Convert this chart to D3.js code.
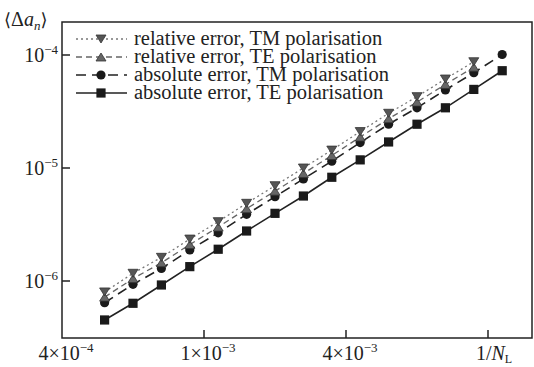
<!DOCTYPE html>
<html>
<head>
<meta charset="utf-8">
<script src="https://cdn.jsdelivr.net/npm/d3@7"></script>
<style>
  body { margin: 0; background: #fff; }
  svg { display: block; }
  text { font-family: "Liberation Serif", "DejaVu Serif", serif; fill: #222; }
</style>
</head>
<body>
<svg></svg>
<script>
// chart values
// x positions are in axis units: tick 0 = 4e-4, 1 = 1e-3, 2 = 4e-3, 3 = 1/N_L mark
const xTicks = [0, 1, 2, 3];
const xTickLabels = [["4×10", "−4"], ["1×10", "−3"], ["4×10", "−3"], null];
const yTicks = [1e-6, 1e-5, 1e-4];
const yTickLabels = [["10", "−6"], ["10", "−5"], ["10", "−4"]];

const xAbs = [0.30, 0.50, 0.70, 0.90, 1.10, 1.30, 1.50, 1.70, 1.90, 2.10, 2.30, 2.50, 2.70, 2.90, 3.10];
const xRel = [0.30, 0.50, 0.70, 0.90, 1.10, 1.30, 1.50, 1.70, 1.90, 2.10, 2.30, 2.50, 2.70, 2.90];

const relTM = [8.0e-7, 1.17e-6, 1.62e-6, 2.35e-6, 3.35e-6, 4.87e-6, 6.97e-6, 1.0e-5, 1.44e-5, 2.10e-5, 3.05e-5, 4.28e-5, 6.13e-5, 8.72e-5];
const relTE = [7.2e-7, 1.05e-6, 1.45e-6, 2.10e-6, 3.0e-6, 4.36e-6, 6.24e-6, 8.95e-6, 1.29e-5, 1.88e-5, 2.73e-5, 3.83e-5, 5.49e-5, 7.8e-5];
const absTM = [6.42e-7, 9.35e-7, 1.29e-6, 1.88e-6, 2.67e-6, 3.89e-6, 5.57e-6, 8.0e-6, 1.15e-5, 1.68e-5, 2.44e-5, 3.41e-5, 4.90e-5, 6.97e-5, 1.01e-4];
const absTE = [4.52e-7, 6.35e-7, 9.22e-7, 1.34e-6, 1.91e-6, 2.77e-6, 3.97e-6, 5.65e-6, 8.28e-6, 1.18e-5, 1.70e-5, 2.44e-5, 3.41e-5, 4.96e-5, 7.26e-5];

const seriesNames = ["relative error, TM polarisation", "relative error, TE polarisation",
                     "absolute error, TM polarisation", "absolute error, TE polarisation"];

async function init() {
var width = 534;
var height = 367;
var left = 62, right = 532, top = 22, bottom = 338;

const svg = d3.select("svg").attr("width", width).attr("height", height);

const xs = d3.scaleLinear().domain([0, 3]).range([62, 488]);
const ys = d3.scaleLog().domain([1e-6, 1e-4]).range([281, 55]);

// ================= series =================
const series = [
  { name: seriesNames[0], x: xRel, y: relTM, dash: "2,3", stroke: "#777", sw: 1.3, marker: "down", fill: "#555" },
  { name: seriesNames[1], x: xRel, y: relTE, dash: "6,4", stroke: "#666", sw: 1.3, marker: "up", fill: "#666" },
  { name: seriesNames[2], x: xAbs, y: absTM, dash: "10,6", stroke: "#222", sw: 1.6, marker: "circle", fill: "#1a1a1a" },
  { name: seriesNames[3], x: xAbs, y: absTE, dash: null, stroke: "#222", sw: 1.6, marker: "square", fill: "#1a1a1a" }
];

function drawMarker(g, type, cx, cy, fill) {
  if (type === "circle") {
    g.append("circle").attr("cx", cx).attr("cy", cy).attr("r", 4.6).attr("fill", fill);
  } else if (type === "square") {
    g.append("rect").attr("x", cx - 4.6).attr("y", cy - 4.6).attr("width", 9.2).attr("height", 9.2).attr("fill", fill);
  } else {
    var s = type === "up" ? -1 : 1;
    var pts = [[cx - 5, cy - 4 * s], [cx + 5, cy - 4 * s], [cx, cy + 4 * s]];
    g.append("path").attr("d", d3.line()(pts) + "Z")
      .attr("fill", fill).attr("stroke", "#333").attr("stroke-width", 0.8);
  }
}

const plot = svg.append("g");
series.slice().reverse().forEach(function(s) {
  var pts = s.x.map(function(xv, i) { return [xs(xv), ys(s.y[i])]; });
  plot.append("path")
    .attr("d", d3.line()(pts))
    .attr("fill", "none")
    .attr("stroke", s.stroke)
    .attr("stroke-width", s.sw)
    .attr("stroke-dasharray", s.dash);
  pts.forEach(function(p) { drawMarker(plot, s.marker, p[0], p[1], s.fill); });
});

// ================= frame & ticks =================
svg.append("rect")
  .attr("x", left).attr("y", top).attr("width", right - left).attr("height", bottom - top)
  .attr("fill", "none").attr("stroke", "#222").attr("stroke-width", 1.5);

svg.selectAll(".ytick").data(yTicks).enter().append("line")
  .attr("x1", left).attr("x2", left + 8)
  .attr("y1", d => ys(d)).attr("y2", d => ys(d))
  .attr("stroke", "#222").attr("stroke-width", 1.5);

svg.selectAll(".xtick").data(xTicks.slice(1)).enter().append("line")
  .attr("x1", d => xs(d)).attr("x2", d => xs(d))
  .attr("y1", bottom).attr("y2", bottom - 8)
  .attr("stroke", "#222").attr("stroke-width", 1.5);

yTicks.forEach(function(t, i) {
  var tx = svg.append("text").attr("x", left - 4).attr("y", ys(t) + 7)
    .attr("text-anchor", "end").attr("font-size", 20);
  tx.append("tspan").text(yTickLabels[i][0]);
  tx.append("tspan").attr("dy", -8).attr("font-size", 13).text(yTickLabels[i][1]);
});

xTicks.forEach(function(t, i) {
  if (!xTickLabels[i]) return;
  var tx = svg.append("text").attr("x", xs(t) + 4).attr("y", 360)
    .attr("text-anchor", "middle").attr("font-size", 20);
  tx.append("tspan").text(xTickLabels[i][0]);
  tx.append("tspan").attr("dy", -8).attr("font-size", 13).text(xTickLabels[i][1]);
});

// axis titles
var xt = svg.append("text").attr("x", xs(3) + 6).attr("y", 360)
  .attr("text-anchor", "middle").attr("font-size", 20);
xt.append("tspan").text("1/");
xt.append("tspan").attr("font-style", "italic").text("N");
xt.append("tspan").attr("dy", 3).attr("font-size", 12).text("L");

var yt = svg.append("text").attr("x", 4).attr("y", 26).attr("font-size", 20);
yt.append("tspan").attr("font-family", "DejaVu Serif").attr("font-size", 18).text("⟨");
yt.append("tspan").text("Δ");
yt.append("tspan").attr("font-style", "italic").text("a");
yt.append("tspan").attr("dy", 4).attr("font-size", 13).attr("font-style", "italic").text("n");
yt.append("tspan").attr("dy", -4).attr("font-family", "DejaVu Serif").attr("font-size", 18).text("⟩");

// ================= legend =================
const legend = svg.append("g");
series.forEach(function(s, i) {
  var ly = 39 + i * 18;
  legend.append("line")
    .attr("x1", 76).attr("x2", 127).attr("y1", ly).attr("y2", ly)
    .attr("stroke", s.stroke).attr("stroke-width", s.sw)
    .attr("stroke-dasharray", s.dash);
  drawMarker(legend, s.marker, 101, ly, s.fill);
  legend.append("text").attr("x", 134).attr("y", ly + 6)
    .attr("font-size", 20.5).text(s.name);
});
}
init();
</script>
</body>
</html>
